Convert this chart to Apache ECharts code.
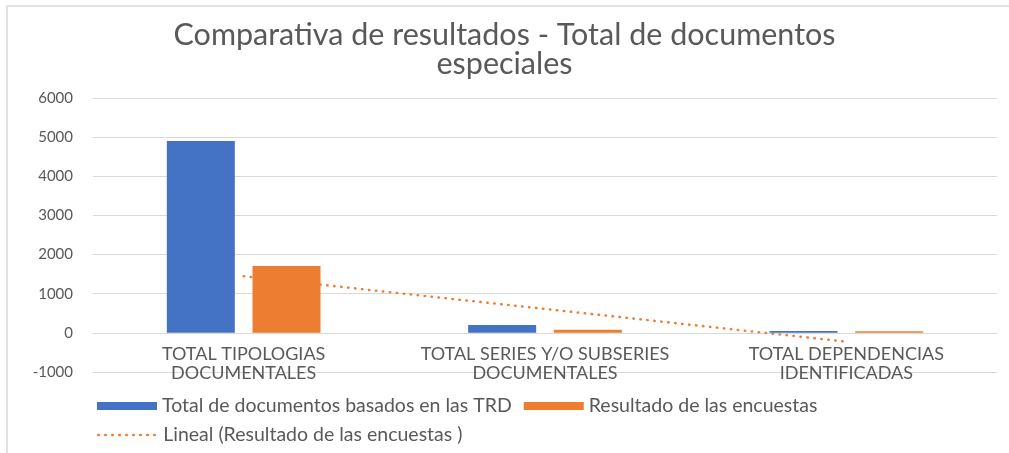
<!DOCTYPE html>
<html>
<head>
<meta charset="utf-8">
<script src="https://cdn.jsdelivr.net/npm/echarts@6/dist/echarts.min.js"></script>
<style>
  html, body { margin: 0; padding: 0; background: #fff; }
  #chart { width: 1009px; height: 453px; }
</style>
</head>
<body>
<div id="chart"></div>
<script>
// Categories and values
const categories = [
  'TOTAL TIPOLOGIAS\nDOCUMENTALES',
  'TOTAL SERIES Y/O SUBSERIES\nDOCUMENTALES',
  'TOTAL DEPENDENCIAS\nIDENTIFICADAS'
];
const totalTRD = [4900, 200, 50];
const encuestas = [1710, 80, 40];
const yTicks = { min: -1000, max: 6000, step: 1000 };

// Least-squares linear trend of the survey results
function linearTrend(values) {
  const n = values.length;
  const xs = values.map((_, i) => i + 1);
  const mx = xs.reduce((a, b) => a + b, 0) / n;
  const my = values.reduce((a, b) => a + b, 0) / n;
  let num = 0, den = 0;
  xs.forEach((x, i) => { num += (x - mx) * (values[i] - my); den += (x - mx) * (x - mx); });
  const slope = num / den;
  return xs.map(x => my + slope * (x - mx));
}
const trend = linearTrend(encuestas);

const FONT = 'Lato';
const TXT = '#595959';
const DOTS = [0.5, 6.5];

const chart = echarts.init(document.getElementById('chart'));
chart.setOption({
  animation: false,
  textStyle: { fontFamily: FONT },
  graphic: [{
    type: 'rect',
    shape: { x: 7, y: 6, width: 1020, height: 470 },
    style: { fill: 'none', stroke: '#d9d9d9', lineWidth: 1.5 },
    silent: true
  }],
  title: {
    text: 'Comparativa de resultados - Total de documentos\nespeciales',
    left: 'center',
    top: 16,
    textStyle: { fontFamily: FONT, fontSize: 30.5, fontWeight: 'normal', color: TXT, lineHeight: 29 }
  },
  legend: [{
    data: [
      { name: 'Total de documentos basados en las TRD', icon: 'rect' },
      { name: 'Resultado de las encuestas', icon: 'rect' }
    ],
    left: 97, top: 396, padding: 0,
    itemWidth: 60, itemHeight: 8, itemGap: 12,
    textStyle: { fontFamily: FONT, fontSize: 19.5, color: TXT }
  }, {
    data: ['Lineal (Resultado de las encuestas )'],
    left: 97, top: 425, padding: 0,
    itemWidth: 60, itemHeight: 8,
    itemStyle: { opacity: 0 },
    lineStyle: { type: DOTS, width: 2.5, cap: 'round' },
    textStyle: { fontFamily: FONT, fontSize: 19.5, color: TXT }
  }],
  grid: { left: 93, right: 12, top: 98, bottom: 81, containLabel: false },
  xAxis: {
    type: 'category',
    data: categories,
    offset: -39,
    axisLine: { onZero: false, lineStyle: { color: '#d9d9d9' } },
    axisTick: { show: false },
    axisLabel: { color: TXT, fontFamily: FONT, fontSize: 18, lineHeight: 19, margin: 12, interval: 0 }
  },
  yAxis: {
    type: 'value',
    min: yTicks.min, max: yTicks.max, interval: yTicks.step,
    axisLine: { show: false },
    axisTick: { show: false },
    splitLine: { lineStyle: { color: '#d9d9d9', width: 1 } },
    axisLabel: { color: TXT, fontFamily: FONT, fontSize: 15, margin: 20, formatter: v => String(v) }
  },
  series: [{
    name: 'Total de documentos basados en las TRD',
    type: 'bar',
    data: totalTRD,
    barWidth: 68,
    barGap: '26%',
    z: 3,
    itemStyle: { color: '#4472C4' }
  }, {
    name: 'Resultado de las encuestas',
    type: 'bar',
    data: encuestas,
    barWidth: 68,
    z: 3,
    itemStyle: { color: '#ED7D31' }
  }, {
    name: 'Lineal (Resultado de las encuestas )',
    type: 'line',
    data: trend,
    symbol: 'none',
    z: 1,
    lineStyle: { color: '#ED7D31', width: 2.5, type: DOTS, cap: 'round' },
    itemStyle: { color: '#ED7D31' }
  }]
});
</script>
</body>
</html>
